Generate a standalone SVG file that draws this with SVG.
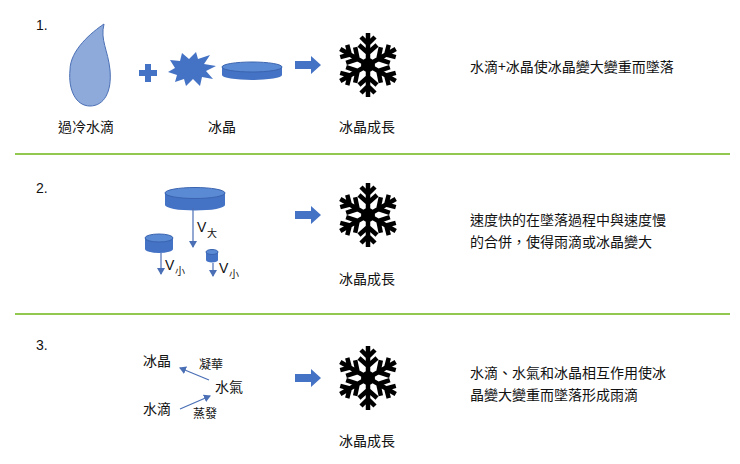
<svg xmlns="http://www.w3.org/2000/svg" width="740" height="464" viewBox="0 0 740 464">
<style>
text{font-family:"Noto Sans CJK TC","Noto Sans CJK SC",sans-serif;font-size:14px;fill:#111}
.num{font-family:"Liberation Sans",sans-serif;font-size:14px}
.sep{stroke:#92c84f;stroke-width:2}
.blue{fill:#4472c4}
.top{fill:#5b8ad4;stroke:#3a64b0;stroke-width:1}
.thin{stroke:#4a6fb5;stroke-width:1.2;fill:none}
.fl{stroke:#000;stroke-width:4.5;stroke-linecap:butt;fill:none}
</style>
<defs>
<marker id="ah" markerWidth="8" markerHeight="8" refX="6" refY="4" orient="auto" markerUnits="userSpaceOnUse"><path d="M0,0 L7,4 L0,8 Z" fill="#4a6fb5"/></marker>
<g id="arm"><path class="fl" d="M0,0 V-32 M0,-12 L-9,-20 M0,-12 L9,-20 M0,-21 L-7,-28 M0,-21 L7,-28"/></g>
<g id="flake"><use href="#arm"/><use href="#arm" transform="rotate(60)"/><use href="#arm" transform="rotate(120)"/><use href="#arm" transform="rotate(180)"/><use href="#arm" transform="rotate(240)"/><use href="#arm" transform="rotate(300)"/><circle r="7"/></g>
<path id="barrow" d="M0,-4 H16 V-9 L26,0 L16,9 V4 H0 Z" fill="#4472c4"/>
</defs>
<g id="separators"><line class="sep" x1="15" y1="154" x2="730" y2="154"/><line class="sep" x1="15" y1="314" x2="730" y2="314"/></g>
<g id="row1">
<text class="num" x="36" y="30">1.</text>
<path d="M104,24 C92,32 70,50 70,70 C68,90 76,106 90,106 C104,106 112,92 110,70 C108,50 100,40 104,24 Z" fill="#8eaadb" stroke="#4a6fb5"/>
<path class="blue" d="M145,64 h6 v6 h6 v6 h-6 v6 h-6 v-6 h-6 v-6 h6 Z"/>
<path class="blue" d="M170,60 L180,61 L182,53 L189,59 L196,52 L198,59 L210,55 L204,64 L216,66 L206,71 L213,79 L202,77 L200,86 L193,79 L186,86 L184,79 L175,82 L177,75 L168,72 L175,68 Z"/>
<g><path class="blue" d="M222,67 V75 A30,5 0 0 0 282,75 V67 Z"/><ellipse class="top" cx="252" cy="67" rx="30" ry="5"/></g>
<use href="#barrow" x="295" y="65"/>
<use href="#flake" x="368" y="65"/>
<text x="58" y="132">過冷水滴</text>
<text x="208" y="132">冰晶</text>
<text x="339" y="132">冰晶成長</text>
<text x="470" y="72">水滴+冰晶使冰晶變大變重而墜落</text>
</g>
<g id="row2">
<text class="num" x="36" y="193">2.</text>
<g><path class="blue" d="M165,193 V205 A30,5.5 0 0 0 225,205 V193 Z"/><ellipse class="top" cx="195" cy="193" rx="30" ry="5.5"/></g>
<line class="thin" x1="193" y1="208" x2="193" y2="247" marker-end="url(#ah)"/>
<text class="num" x="197" y="232">V</text><text x="207" y="237" style="font-size:10px">大</text>
<g><path class="blue" d="M145,238 V249 A14,4 0 0 0 173,249 V238 Z"/><ellipse class="top" cx="159" cy="238" rx="14" ry="4"/></g>
<line class="thin" x1="161" y1="253" x2="161" y2="274" marker-end="url(#ah)"/>
<text class="num" x="165" y="270">V</text><text x="175" y="275" style="font-size:10px">小</text>
<g><path class="blue" d="M206,252 V260 A6,2.5 0 0 0 218,260 V252 Z"/><ellipse class="top" cx="212" cy="252" rx="6" ry="2.5"/></g>
<line class="thin" x1="213" y1="263" x2="213" y2="276" marker-end="url(#ah)"/>
<text class="num" x="219" y="273">V</text><text x="229" y="278" style="font-size:10px">小</text>
<use href="#barrow" x="295" y="215"/>
<use href="#flake" x="368" y="215"/>
<text x="339" y="284">冰晶成長</text>
<text x="470" y="225">速度快的在墜落過程中與速度慢</text>
<text x="470" y="247">的合併，使得雨滴或冰晶變大</text>
</g>
<g id="row3">
<text class="num" x="36" y="350">3.</text>
<text x="143" y="366">冰晶</text>
<text x="199" y="369" style="font-size:12px">凝華</text>
<text x="215" y="392">水氣</text>
<text x="143" y="414">水滴</text>
<text x="193" y="418" style="font-size:12px">蒸發</text>
<line class="thin" x1="209" y1="380" x2="180" y2="368" marker-end="url(#ah)"/>
<line class="thin" x1="180" y1="409" x2="210" y2="396" marker-end="url(#ah)"/>
<use href="#barrow" x="295" y="378"/>
<use href="#flake" x="368" y="378"/>
<text x="339" y="446">冰晶成長</text>
<text x="470" y="378">水滴、水氣和冰晶相互作用使冰</text>
<text x="470" y="400">晶變大變重而墜落形成雨滴</text>
</g>
</svg>
